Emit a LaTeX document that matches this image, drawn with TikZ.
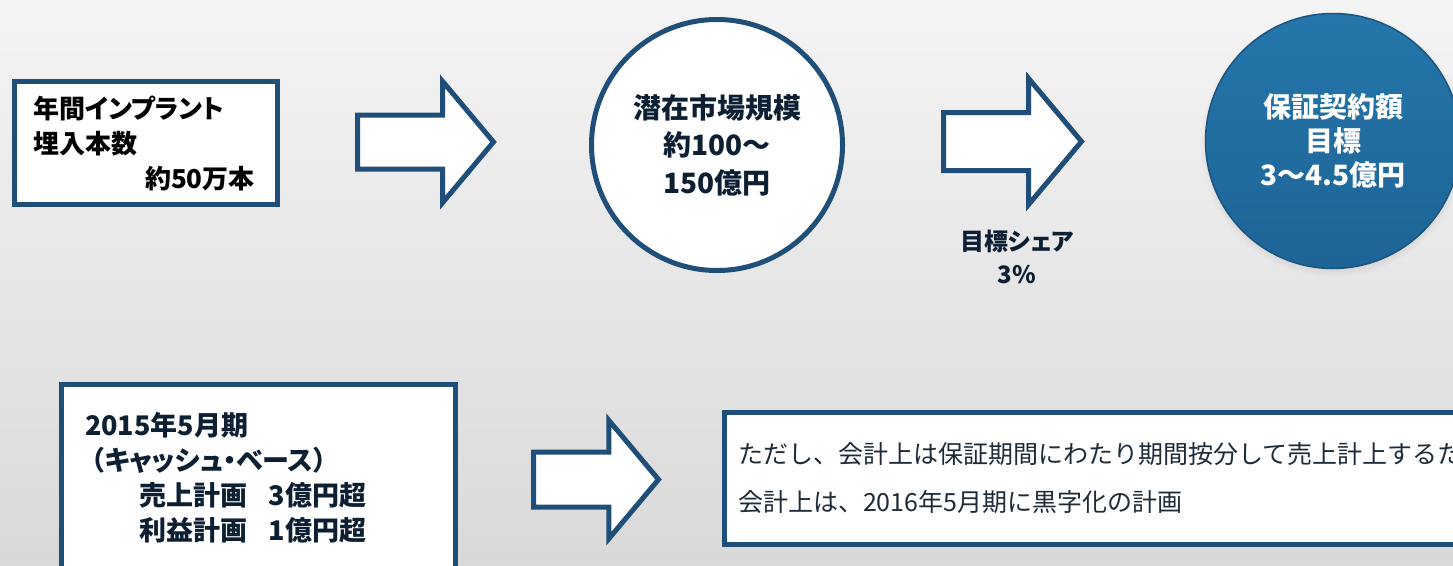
\documentclass[tikz,border=0pt]{standalone}
\usepackage{fontspec}
\setmainfont{Noto Sans CJK JP}
\usepackage{tikz}
\usetikzlibrary{shapes.arrows,shadows}
\definecolor{framecol}{HTML}{1F4E79}
\definecolor{navytext}{HTML}{0D2033}
\definecolor{plaintext}{HTML}{1E2B38}
\definecolor{bgtop}{HTML}{F4F4F4}
\definecolor{bgbottom}{HTML}{D9D9D9}
\definecolor{balltop}{HTML}{2576AB}
\definecolor{ballbottom}{HTML}{1D6496}
\tikzset{
    %Define style for boxes
    infobox/.style={
           rectangle,
           draw=framecol, line width=5pt,
           fill=white,
           outer sep=0pt,
           align=left},
    %Define style for circles
    marketcircle/.style={
           circle,
           draw=framecol, line width=5pt,
           fill=white,
           minimum size=251pt,
           align=center,
           text=navytext,
           font=\fontsize{28}{37.5}\selectfont\bfseries},
    goalcircle/.style={
           circle,
           draw=ballbottom!85!black, line width=1.5pt,
           top color=balltop, bottom color=ballbottom,
           circular drop shadow={shadow xshift=0pt, shadow yshift=-3pt,
             shadow scale=1.04, opacity=.35},
           minimum size=255pt,
           align=center,
           text=white,
           font=\fontsize{28}{34}\selectfont\bfseries},
    % Define block arrow style
    blockarrow/.style={
           single arrow,
           draw=framecol, line width=5pt,
           fill=white,
           inner xsep=0pt, outer sep=0pt,
           minimum width=0pt,
           single arrow tip angle=100,
           single arrow head indent=0pt,
           anchor=tail},
    sharelabel/.style={
           align=center,
           text=navytext,
           font=\fontsize{24}{33}\selectfont\bfseries\addfontfeatures{RawFeature=+palt}}
}

\begin{document}
\begin{tikzpicture}[x=1pt,y=-1pt]
 \useasboundingbox (0,0) rectangle (1453,565);
 \clip (0,0) rectangle (1453,565);
 \fill[top color=bgtop, bottom color=bgbottom] (0,0) rectangle (1453,565);
 %nodes
 \node[infobox, text width=226pt, inner xsep=18.5pt, minimum height=123pt,
   font=\fontsize{26}{35}\selectfont\bfseries\addfontfeatures{RawFeature=+palt}] (implants) at (146,143)
   {年間インプラント\\埋入本数\\\hspace*{112pt}約50万本};
 \node[blockarrow, minimum height=136pt, inner ysep=24.5pt,
   single arrow head extend=33.5pt] (arr1) at (357.5,142) {};
 \node[marketcircle] (market) at (717,145) {潜在市場規模\\約100～\\150億円};
 \node[blockarrow, minimum height=138pt, inner ysep=26.5pt,
   single arrow head extend=34pt] (arr2) at (943.5,141.5) {};
 \node[sharelabel] (share) at (1017,256.5) {目標シェア\\3\%};
 \node[goalcircle] (goal) at (1333,141) {保証契約額\\目標\\3～4.5億円};
 \node[infobox, text width=347pt, inner xsep=23.5pt, minimum height=186pt,
   text=navytext, font=\fontsize{27}{35}\selectfont\bfseries\addfontfeatures{RawFeature=+palt}] (cashplan) at (258.5,477.5)
   {2015年5月期\\\hspace*{6pt}（キャッシュ・ベース）\\\hspace*{2em}売上計画\hspace{.8em}3億円超\\\hspace*{2em}利益計画\hspace{.8em}1億円超};
 \node[blockarrow, minimum height=125pt, inner ysep=25pt,
   single arrow head extend=31.5pt] (arr3) at (533.5,479.5) {};
 \node[infobox, text width=748.5pt, inner xsep=13.5pt, minimum height=132pt,
   text=plaintext, font=\fontsize{25}{48}\selectfont] (accounting) at (1112.25,478.5)
   {ただし、会計上は保証期間にわたり期間按分して売上計上するた\\会計上は、2016年5月期に黒字化の計画};
\end{tikzpicture}
\end{document}
